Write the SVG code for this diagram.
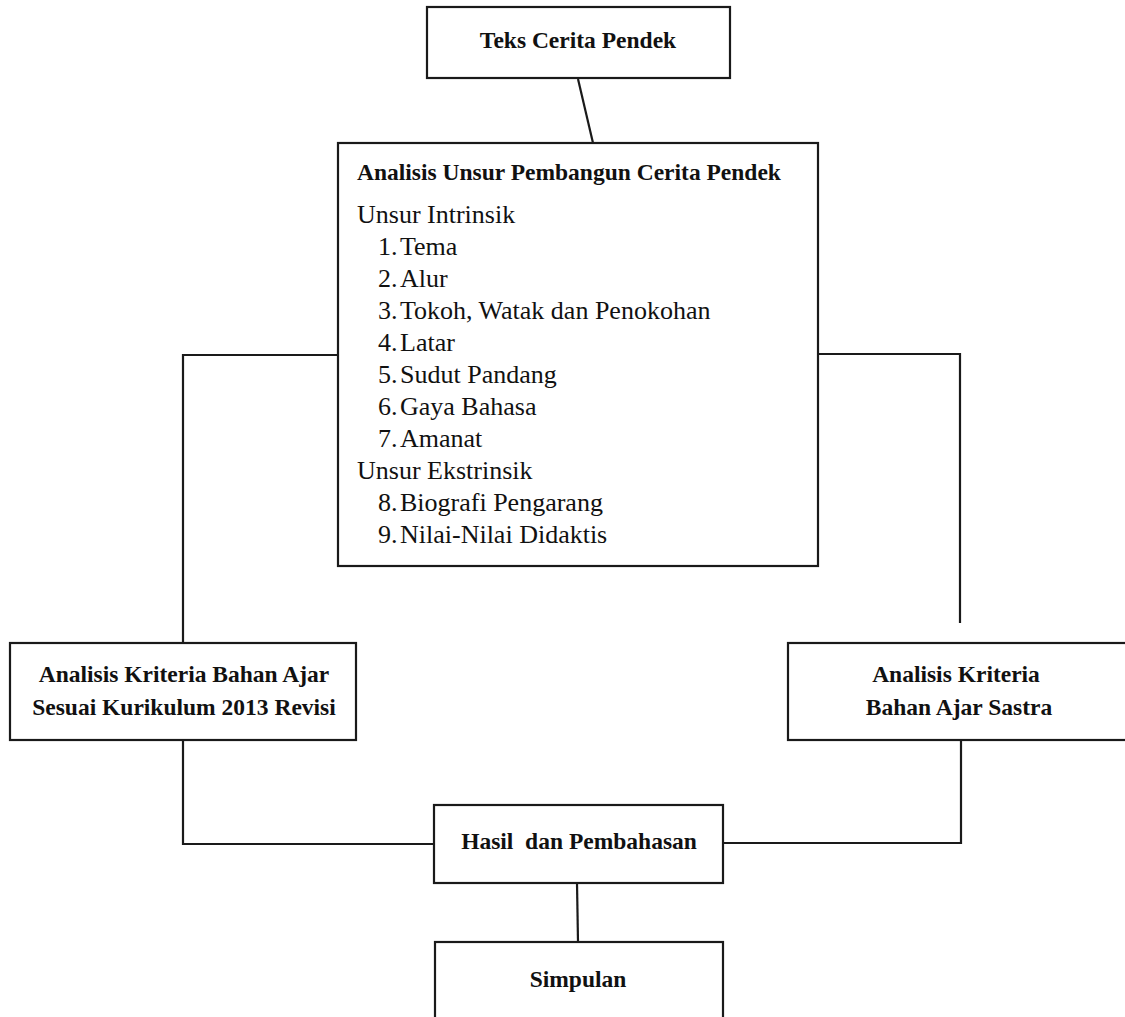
<svg xmlns="http://www.w3.org/2000/svg" width="1125" height="1017" viewBox="0 0 1125 1017">
<style>
.box{fill:#fff;stroke:#1a1a1a;stroke-width:2.2}
.conn{fill:none;stroke:#1a1a1a;stroke-width:2.2}
.b{font-family:"Liberation Serif","Times New Roman",serif;font-weight:bold;font-size:23.5px;fill:#111}
.r{font-family:"Liberation Serif","Times New Roman",serif;font-size:26px;fill:#111}
.c{text-anchor:middle}
</style>
<rect width="1125" height="1017" fill="#fff"/>
<g id="connectors">
<line class="conn" x1="578" y1="79" x2="593" y2="143"/>
<polyline class="conn" points="338,355 183,355 183,643"/>
<polyline class="conn" points="818,354 960,354 960,623"/>
<polyline class="conn" points="183,740 183,844 435,844"/>
<polyline class="conn" points="961,740 961,843 722,843"/>
<line class="conn" x1="577" y1="883" x2="578" y2="942"/>
</g>
<g id="teks">
<rect class="box" x="427" y="7" width="303" height="71"/>
<text class="b c" x="578" y="48">Teks Cerita Pendek</text>
</g>
<g id="analisis-unsur">
<rect class="box" x="338" y="143" width="480" height="423"/>
<text class="b" x="357" y="180">Analisis Unsur Pembangun Cerita Pendek</text>
<text class="r" x="357" y="223">Unsur Intrinsik</text>
<text class="r" x="378" y="255">1.</text><text class="r" x="400" y="255">Tema</text>
<text class="r" x="378" y="287">2.</text><text class="r" x="400" y="287">Alur</text>
<text class="r" x="378" y="319">3.</text><text class="r" x="400" y="319">Tokoh, Watak dan Penokohan</text>
<text class="r" x="378" y="351">4.</text><text class="r" x="400" y="351">Latar</text>
<text class="r" x="378" y="383">5.</text><text class="r" x="400" y="383">Sudut Pandang</text>
<text class="r" x="378" y="415">6.</text><text class="r" x="400" y="415">Gaya Bahasa</text>
<text class="r" x="378" y="447">7.</text><text class="r" x="400" y="447">Amanat</text>
<text class="r" x="357" y="479">Unsur Ekstrinsik</text>
<text class="r" x="378" y="511">8.</text><text class="r" x="400" y="511">Biografi Pengarang</text>
<text class="r" x="378" y="543">9.</text><text class="r" x="400" y="543">Nilai-Nilai Didaktis</text>
</g>
<g id="kriteria-kurikulum">
<rect class="box" x="10" y="643" width="346" height="97"/>
<text class="b c" x="184" y="682">Analisis Kriteria Bahan Ajar</text>
<text class="b c" x="184" y="715">Sesuai Kurikulum 2013 Revisi</text>
</g>
<g id="kriteria-sastra">
<rect class="box" x="788" y="643" width="345" height="97"/>
<text class="b c" x="956" y="682">Analisis Kriteria</text>
<text class="b c" x="959" y="715">Bahan Ajar Sastra</text>
</g>
<g id="hasil">
<rect class="box" x="434" y="805" width="289" height="78"/>
<text class="b c" x="579" y="849" xml:space="preserve">Hasil  dan Pembahasan</text>
</g>
<g id="simpulan">
<rect class="box" x="435" y="942" width="288" height="90"/>
<text class="b c" x="578" y="987">Simpulan</text>
</g>
</svg>
